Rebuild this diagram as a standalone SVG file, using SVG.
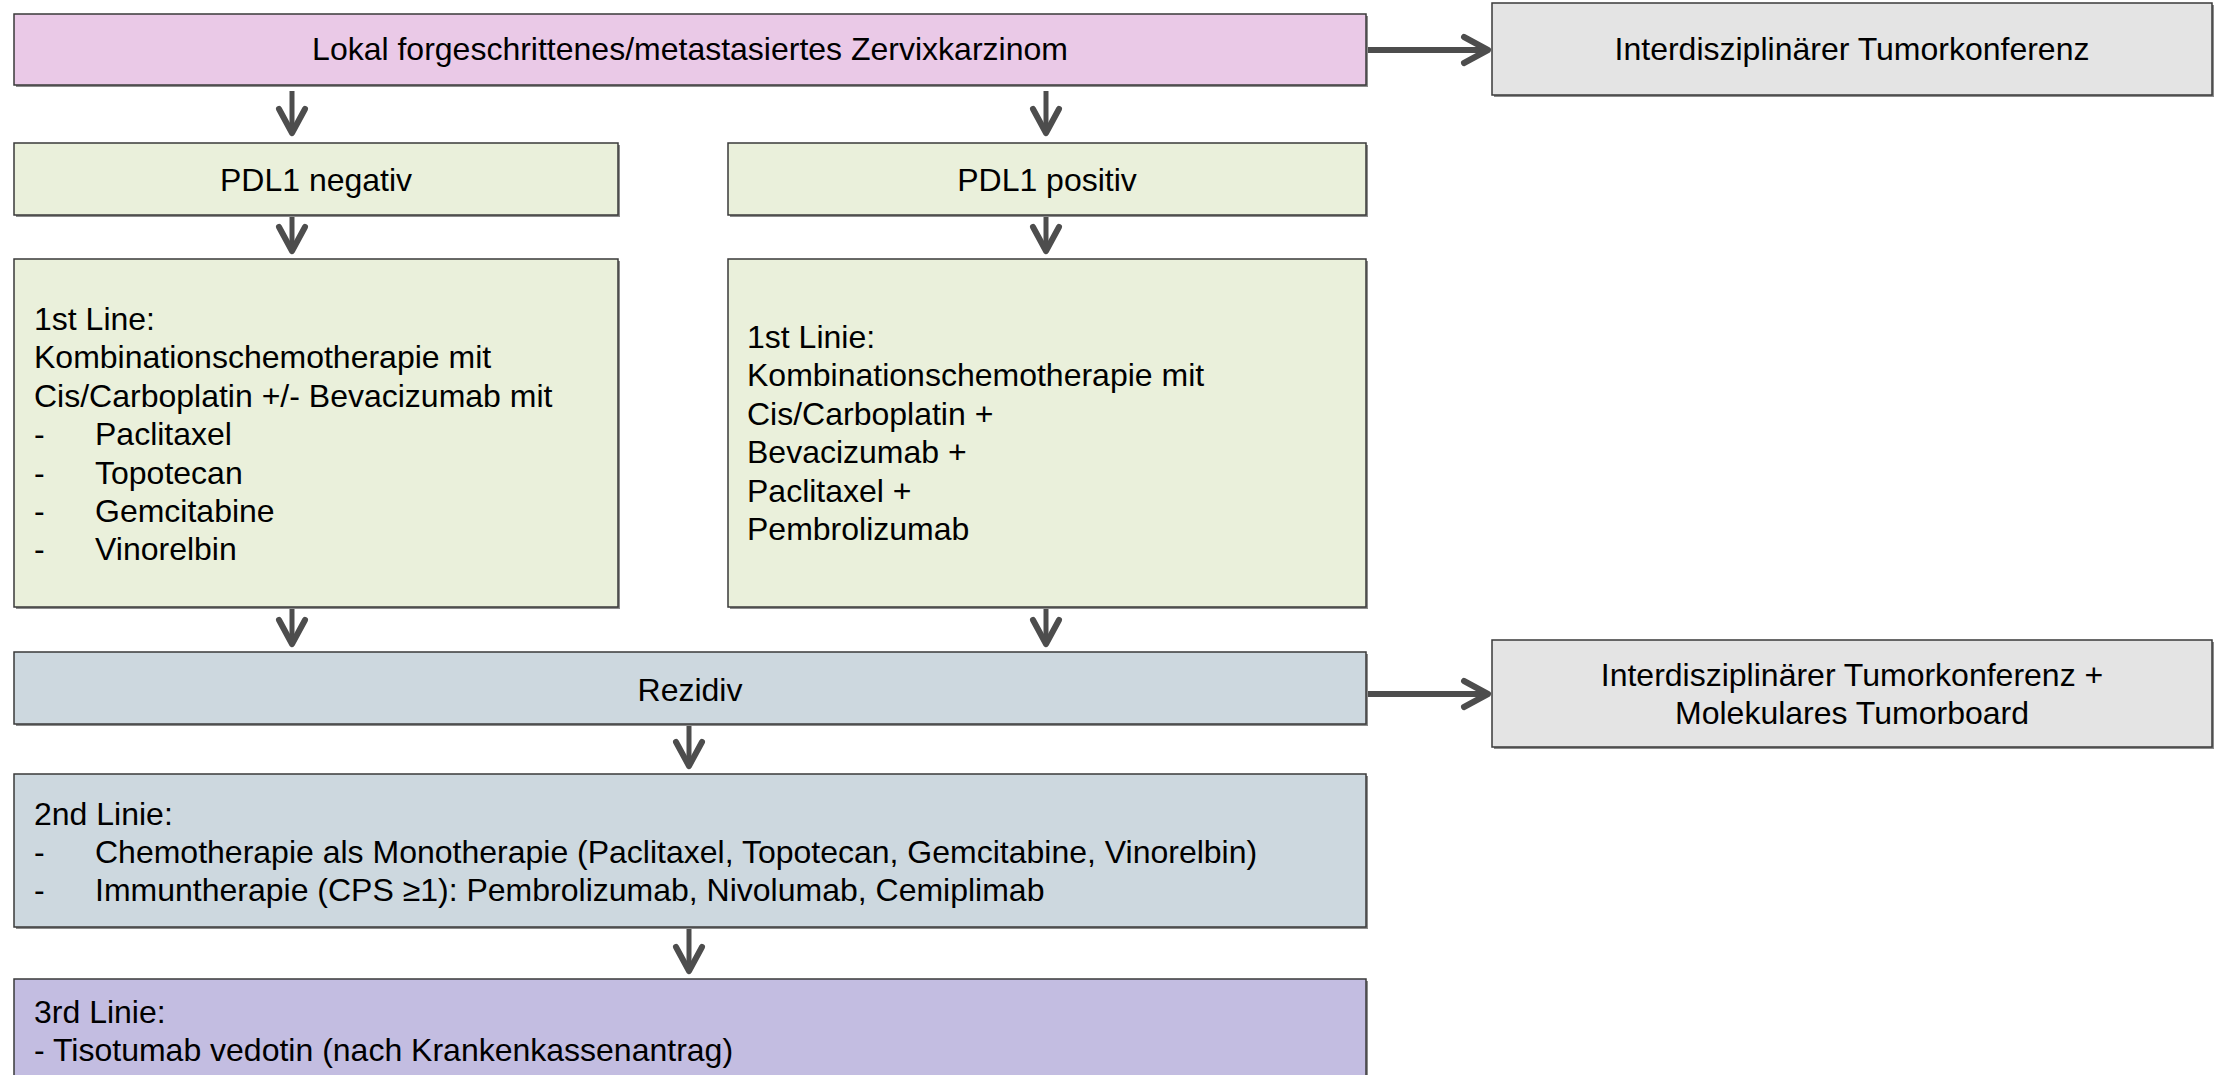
<svg xmlns="http://www.w3.org/2000/svg" width="2215" height="1075" viewBox="0 0 2215 1075">
<style>
  .box { stroke: #3a3a3a; stroke-width: 1.5; }
  .shadow { fill: #8c8c8c; }
  .t { font-family: "Liberation Sans", Arial, sans-serif; font-size: 32px; fill: #000; }
  .c { text-anchor: middle; }
  .pink { fill: #EAC9E7; }
  .green { fill: #EAF0DB; }
  .blue { fill: #CDD8DF; }
  .purple { fill: #C3BDE1; }
  .gray { fill: #E4E4E4; }
  .conn { stroke: #4D4D4D; fill: none; }
  .down { stroke-width: 5; }
  .right { stroke-width: 6; }
</style>
<defs>
  <marker id="chev" markerUnits="userSpaceOnUse" viewBox="-32 -20 40 40" markerWidth="40" markerHeight="40" refX="0" refY="0" orient="auto" overflow="visible">
    <path d="M -24 -13 L 0 0 L -24 13" fill="none" stroke="#4D4D4D" stroke-width="6" stroke-linecap="round" stroke-linejoin="round"/>
  </marker>
</defs>
<rect width="2215" height="1075" fill="#ffffff"/>

<g id="connectors">
  <path class="conn right" d="M 1366 50 L 1488 50" marker-end="url(#chev)"/>
  <path class="conn right" d="M 1366 694 L 1488 694" marker-end="url(#chev)"/>
  <path class="conn down" d="M 292 91 L 292 133" marker-end="url(#chev)"/>
  <path class="conn down" d="M 1046 91 L 1046 133" marker-end="url(#chev)"/>
  <path class="conn down" d="M 292 217 L 292 251" marker-end="url(#chev)"/>
  <path class="conn down" d="M 1046 217 L 1046 251" marker-end="url(#chev)"/>
  <path class="conn down" d="M 292 609 L 292 644" marker-end="url(#chev)"/>
  <path class="conn down" d="M 1046 609 L 1046 644" marker-end="url(#chev)"/>
  <path class="conn down" d="M 689 726 L 689 766" marker-end="url(#chev)"/>
  <path class="conn down" d="M 689 929 L 689 971" marker-end="url(#chev)"/>
</g>

<g id="node-top">
  <rect class="shadow" x="16" y="16" width="1352" height="71"/>
  <rect class="box pink" x="14" y="14" width="1352" height="71"/>
  <text class="t c" x="690" y="60">Lokal forgeschrittenes/metastasiertes Zervixkarzinom</text>
</g>

<g id="node-tumorkonferenz">
  <rect class="shadow" x="1494" y="5" width="720" height="92"/>
  <rect class="box gray" x="1492" y="3" width="720" height="92"/>
  <text class="t c" x="1852" y="60">Interdisziplinärer Tumorkonferenz</text>
</g>

<g id="node-pdl1-neg">
  <rect class="shadow" x="16" y="145" width="604" height="72"/>
  <rect class="box green" x="14" y="143" width="604" height="72"/>
  <text class="t c" x="316" y="191">PDL1 negativ</text>
</g>

<g id="node-pdl1-pos">
  <rect class="shadow" x="730" y="145" width="638" height="72"/>
  <rect class="box green" x="728" y="143" width="638" height="72"/>
  <text class="t c" x="1047" y="191">PDL1 positiv</text>
</g>

<g id="node-1st-neg">
  <rect class="shadow" x="16" y="261" width="604" height="348"/>
  <rect class="box green" x="14" y="259" width="604" height="348"/>
  <text class="t" x="34" y="330">1st Line:</text>
  <text class="t" x="34" y="368.4">Kombinationschemotherapie mit</text>
  <text class="t" x="34" y="406.8">Cis/Carboplatin +/- Bevacizumab mit</text>
  <text class="t" x="34" y="445.2">-</text><text class="t" x="95" y="445.2">Paclitaxel</text>
  <text class="t" x="34" y="483.6">-</text><text class="t" x="95" y="483.6">Topotecan</text>
  <text class="t" x="34" y="522">-</text><text class="t" x="95" y="522">Gemcitabine</text>
  <text class="t" x="34" y="560.4">-</text><text class="t" x="95" y="560.4">Vinorelbin</text>
</g>

<g id="node-1st-pos">
  <rect class="shadow" x="730" y="261" width="638" height="348"/>
  <rect class="box green" x="728" y="259" width="638" height="348"/>
  <text class="t" x="747" y="348">1st Linie:</text>
  <text class="t" x="747" y="386.4">Kombinationschemotherapie mit</text>
  <text class="t" x="747" y="424.8">Cis/Carboplatin +</text>
  <text class="t" x="747" y="463.2">Bevacizumab +</text>
  <text class="t" x="747" y="501.6">Paclitaxel +</text>
  <text class="t" x="747" y="540">Pembrolizumab</text>
</g>

<g id="node-rezidiv">
  <rect class="shadow" x="16" y="654" width="1352" height="72"/>
  <rect class="box blue" x="14" y="652" width="1352" height="72"/>
  <text class="t c" x="690" y="701">Rezidiv</text>
</g>

<g id="node-tumorboard">
  <rect class="shadow" x="1494" y="642" width="720" height="107"/>
  <rect class="box gray" x="1492" y="640" width="720" height="107"/>
  <text class="t c" x="1852" y="686">Interdisziplinärer Tumorkonferenz +</text>
  <text class="t c" x="1852" y="724">Molekulares Tumorboard</text>
</g>

<g id="node-2nd">
  <rect class="shadow" x="16" y="776" width="1352" height="153"/>
  <rect class="box blue" x="14" y="774" width="1352" height="153"/>
  <text class="t" x="34" y="825">2nd Linie:</text>
  <text class="t" x="34" y="863">-</text><text class="t" x="95" y="863">Chemotherapie als Monotherapie (Paclitaxel, Topotecan, Gemcitabine, Vinorelbin)</text>
  <text class="t" x="34" y="901">-</text><text class="t" x="95" y="901">Immuntherapie (CPS ≥1): Pembrolizumab, Nivolumab, Cemiplimab</text>
</g>

<g id="node-3rd">
  <rect class="shadow" x="16" y="981" width="1352" height="110"/>
  <rect class="box purple" x="14" y="979" width="1352" height="110"/>
  <text class="t" x="34" y="1023">3rd Linie:</text>
  <text class="t" x="34" y="1061">- Tisotumab vedotin (nach Krankenkassenantrag)</text>
</g>
</svg>
